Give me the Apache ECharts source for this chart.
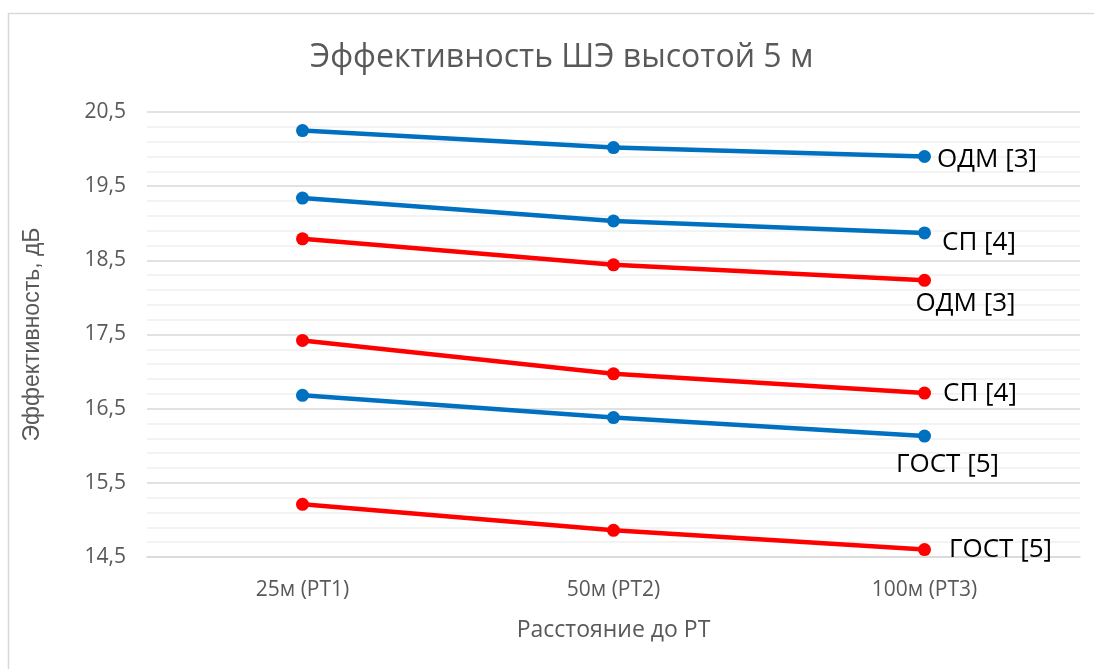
<!DOCTYPE html>
<html>
<head>
<meta charset="utf-8">
<script src="https://cdn.jsdelivr.net/npm/echarts@6/dist/echarts.min.js"></script>
<style>
  html, body { margin: 0; padding: 0; background: #fff; }
  #chart { width: 1094px; height: 669px; }
</style>
</head>
<body>
<div id="chart"></div>
<script>
// Distance points along the x axis
const categories = ['25м (РТ1)', '50м (РТ2)', '100м (РТ3)'];

// Shielding efficiency, dB (blue and red groups)
const blueOdm  = [20.25, 20.02, 19.90];
const blueSp   = [19.34, 19.03, 18.87];
const blueGost = [16.68, 16.38, 16.13];
const redOdm   = [18.79, 18.44, 18.23];
const redSp    = [17.42, 16.97, 16.71];
const redGost  = [15.21, 14.86, 14.60];

// End-of-line labels
const labelOdm  = 'ОДМ [3]';
const labelSp   = 'СП [4]';
const labelGost = 'ГОСТ [5]';

const BLUE = '#0070C0';
const RED = '#FF0000';
const FONT = '"Open Sans", "Noto Sans", sans-serif';

function makeSeries(name, values, color, text, labelPos, labelOffset) {
  const last = values.length - 1;
  return {
    name: name,
    type: 'line',
    symbol: 'circle',
    symbolSize: 13,
    lineStyle: { width: 4.5, color: color },
    itemStyle: { color: color },
    z: 3,
    data: values.map((v, i) => i === last ? {
      value: v,
      label: {
        show: true,
        formatter: text,
        position: labelPos,
        offset: labelOffset,
        color: '#000',
        fontSize: 26,
        fontFamily: FONT
      }
    } : v)
  };
}

const chart = echarts.init(document.getElementById('chart'), null, { renderer: 'canvas' });

chart.setOption({
  animation: false,
  backgroundColor: '#fff',
  title: {
    text: 'Эффективность ШЭ высотой 5 м',
    left: 305,
    top: 37,
    textStyle: { color: '#595959', fontSize: 32, fontWeight: 'normal', fontFamily: FONT }
  },
  graphic: [{
    type: 'rect',
    shape: { x: 8.5, y: 13.5, width: 1200, height: 800 },
    style: { fill: null, stroke: '#d9d9d9', lineWidth: 1.5 },
    silent: true,
    z: -1
  }],
  grid: { left: 147, right: 14, top: 112, bottom: 112 },
  xAxis: {
    type: 'category',
    data: categories,
    boundaryGap: true,
    axisLine: { show: true, lineStyle: { color: '#d9d9d9', width: 1.5 } },
    axisTick: { show: false },
    axisLabel: { color: '#595959', fontSize: 21, margin: 23, fontFamily: FONT },
    name: 'Расстояние до РТ',
    nameLocation: 'middle',
    nameGap: 62,
    nameTextStyle: { color: '#595959', fontSize: 23, fontFamily: FONT }
  },
  yAxis: {
    type: 'value',
    min: 14.5,
    max: 20.5,
    interval: 1,
    axisLine: { show: false },
    axisTick: { show: false },
    axisLabel: {
      color: '#595959',
      fontSize: 21,
      margin: 21,
      fontFamily: FONT,
      formatter: v => v.toFixed(1).replace('.', ',')
    },
    splitLine: { show: true, lineStyle: { color: '#d9d9d9', width: 1.5 } },
    minorTick: { show: false, splitNumber: 5 },
    minorSplitLine: { show: true, lineStyle: { color: '#efefef', width: 1.5 } },
    name: 'Эффективность, дБ',
    nameLocation: 'middle',
    nameGap: 103,
    nameRotate: 90,
    nameTextStyle: { color: '#595959', fontSize: 23, fontFamily: '"Liberation Sans", Arial, sans-serif' }
  },
  series: [
    makeSeries('ОДМ (синий)', blueOdm, BLUE, labelOdm, 'right', [1, 3]),
    makeSeries('СП (синий)', blueSp, BLUE, labelSp, 'right', [6, 10]),
    makeSeries('ГОСТ (синий)', blueGost, BLUE, labelGost, 'bottom', [23, 4]),
    makeSeries('ОДМ (красный)', redOdm, RED, labelOdm, 'bottom', [41, -1]),
    makeSeries('СП (красный)', redSp, RED, labelSp, 'right', [7, 1]),
    makeSeries('ГОСТ (красный)', redGost, RED, labelGost, 'right', [13, 0])
  ]
});
</script>
</body>
</html>
